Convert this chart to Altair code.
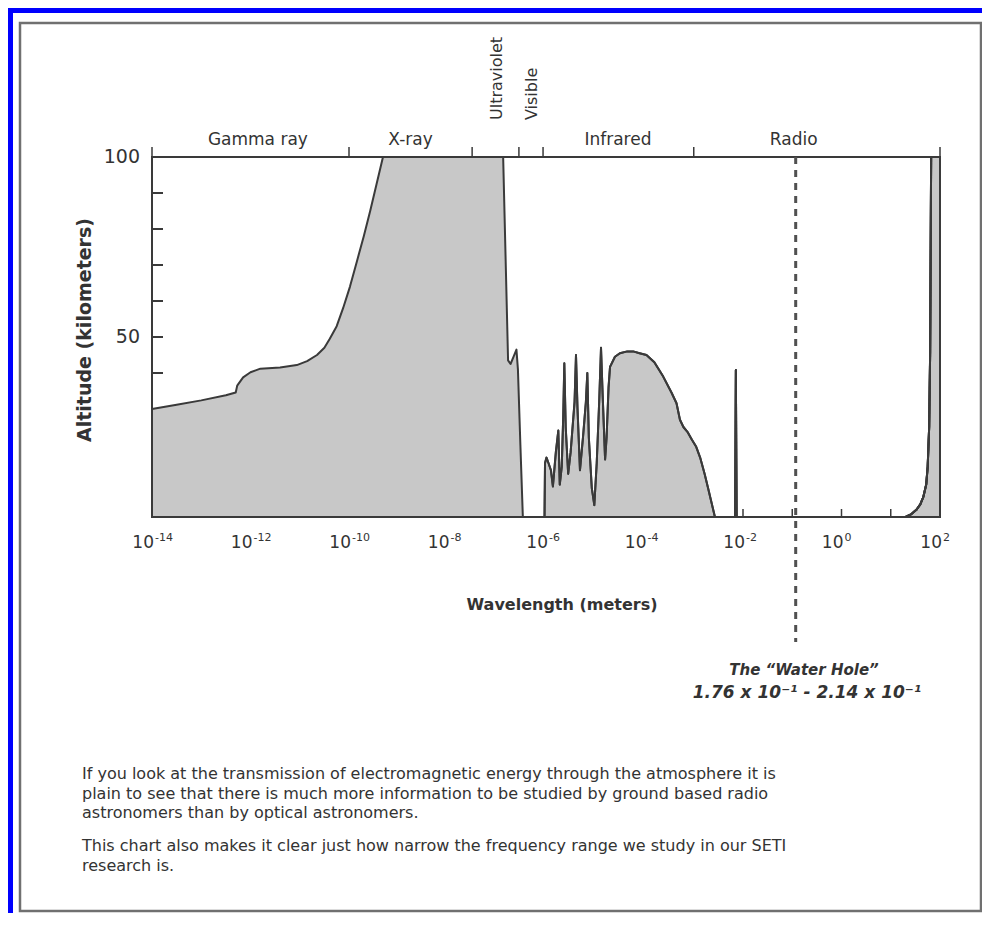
import altair as alt
import pandas as pd

# ---------------- data (wavelength as log10 of meters, altitude in km) -------------
gamma_xray_e = [-14.0, -13.5, -13.0, -12.5, -12.3, -12.27, -12.15, -12.0, -11.8, -11.4,
                -11.06, -10.85, -10.65, -10.5, -10.39, -10.25, -10.12, -9.98, -9.84, -9.7,
                -9.57, -9.44, -9.31, -6.87, -6.77, -6.72, -6.66, -6.6, -6.57, -6.52, -6.47]
gamma_xray_alt = [30, 31.2, 32.4, 33.8, 34.6, 36.5, 38.8, 40.2, 41.2, 41.5,
                  42.2, 43.3, 45, 47, 49.5, 53, 58, 64, 71, 78,
                  85, 92.5, 100, 100, 43.5, 42.5, 44.5, 46.5, 41, 20, 0]

infrared_e = [-6.03, -6.02, -5.99, -5.95, -5.90, -5.86, -5.80, -5.75, -5.72, -5.68,
              -5.65, -5.628, -5.60, -5.55, -5.50, -5.42, -5.391, -5.36, -5.31, -5.25,
              -5.19, -5.161, -5.13, -5.07, -5.019, -4.97, -4.92, -4.883, -4.85, -4.80,
              -4.77, -4.73, -4.70, -4.60, -4.50, -4.35, -4.23, -4.10, -3.96, -3.80,
              -3.62, -3.45, -3.35, -3.28, -3.21, -3.12, -3.04, -2.95, -2.87, -2.78,
              -2.70, -2.57]
infrared_alt = [0, 15, 16.5, 15, 13, 8.5, 18, 24, 9, 14,
                28, 42.7, 25, 12, 18, 32, 45, 30, 13, 22,
                32, 40, 22, 8, 3.3, 15, 32, 47, 34, 16,
                22, 36, 41.7, 44.5, 45.5, 46, 46, 45.5, 45, 43,
                39, 34.5, 31.6, 27, 25, 23.5, 21.5, 19.5, 16.5, 12,
                7.5, 0]

microwave_e = [-2.16, -2.145, -2.13]
microwave_alt = [0, 40.8, 0]

radio_e = [1.30, 1.42, 1.52, 1.60, 1.66, 1.72, 1.75, 1.78, 1.80, 1.82, 2.0]
radio_alt = [0, 0.8, 2, 3.5, 5.5, 9, 14, 25, 46, 100, 100]

band_names = ["Gamma ray", "X-ray", "Ultraviolet", "Visible", "Infrared", "Radio"]
band_label_e = [-11.85, -8.75, -7.0, -6.28, -4.54, -0.97]
band_rotated = [False, False, True, True, False, False]
band_edges_e = [-14, -10, -7.5, -6.55, -6.06, -3, 2]

x_label_e = [-14, -12, -10, -8, -6, -4, -2, 0, 2]
x_label_base = ["10"] * 9
x_label_exp = ["-14", "-12", "-10", "-8", "-6", "-4", "-2", "0", "2"]
x_decade_ticks = [-13, -12, -11, -10, -9, -8, -7, -6, -5, -4, -3, -2, -1, 0, 1]

y_minor_ticks = [10, 20, 30, 40, 50, 60, 70, 80, 90]
y_label_values = [50, 100]
y_label_text = ["50", "100"]

water_hole_e = -0.93
water_hole_title = "The \u201cWater Hole\u201d"
water_hole_range = "1.76 x 10\u207b\u00b9 -  2.14 x 10\u207b\u00b9"

para1 = ["If you look at the transmission of electromagnetic energy through the atmosphere it is",
         "plain to see that there is much more information to be studied by ground based radio",
         "astronomers than by optical astronomers."]
para2 = ["This chart also makes it clear just how narrow the frequency range we study in our SETI",
         "research is."]

# ---------------- build tables -------------
segs = []
for name, es, al in [("gx", gamma_xray_e, gamma_xray_alt), ("ir", infrared_e, infrared_alt),
                     ("mw", microwave_e, microwave_alt), ("rd", radio_e, radio_alt)]:
    segs.append(pd.DataFrame({"seg": name, "e": es, "alt": al}))
area_df = pd.concat(segs, ignore_index=True)

bands = pd.DataFrame({"name": band_names, "e": band_label_e, "rot": band_rotated})
xlab = pd.DataFrame({"e": x_label_e, "base": x_label_base, "exp": x_label_exp})
ylab = pd.DataFrame({"v": y_label_values, "t": y_label_text})
one = pd.DataFrame({"a": [0]})

W, H = 788, 360
FONT = "DejaVu Sans"
INK = "#3a3a3a"
TXT = "#333333"

xs = alt.Scale(domain=[-14, 2], nice=False, zero=False)
ys = alt.Scale(domain=[0, 100], nice=False, zero=False)

X = lambda f: alt.X(f, scale=xs, axis=None)
Y = lambda f: alt.Y(f, scale=ys, axis=None)

y_inner_ticks = alt.Chart(pd.DataFrame({"v": y_minor_ticks})).mark_rule(
    color=INK, strokeWidth=2).encode(
    y=Y("v:Q"), x=alt.value(0), x2=alt.value(11))

x_inner_ticks = alt.Chart(pd.DataFrame({"e": x_decade_ticks})).mark_rule(
    color=INK, strokeWidth=1.5).encode(
    x=X("e:Q"), y=alt.value(H), y2=alt.value(H - 8))

area = alt.Chart(area_df).mark_area(
    color="#c8c8c8", opacity=1,
    line={"color": INK, "strokeWidth": 2, "strokeJoin": "round"}).encode(
    x=X("e:Q"), y=Y("alt:Q"), detail="seg:N")

frame = alt.Chart(pd.DataFrame({"x1": [-14], "x2": [2], "y1": [0], "y2": [100]})).mark_rect(
    fillOpacity=0, stroke=INK, strokeWidth=2).encode(
    x=X("x1:Q"), x2="x2:Q", y=Y("y1:Q"), y2="y2:Q")

y_labels = alt.Chart(ylab).mark_text(
    font=FONT, fontSize=19, color=TXT, align="right", baseline="middle").encode(
    y=Y("v:Q"), x=alt.value(-12), text="t:N")

top_ticks = alt.Chart(pd.DataFrame({"e": band_edges_e})).mark_rule(
    color=INK, strokeWidth=1.5).encode(
    x=X("e:Q"), y=alt.value(0), y2=alt.value(-10))

band_flat = alt.Chart(bands[~bands["rot"]]).mark_text(
    font=FONT, fontSize=17, color=TXT, baseline="alphabetic").encode(
    x=X("e:Q"), y=alt.value(-12), text="name:N")

band_rot = alt.Chart(bands[bands["rot"]]).mark_text(
    font=FONT, fontSize=16, color=TXT, angle=270, align="left", baseline="middle").encode(
    x=X("e:Q"), y=alt.value(-37), text="name:N")

water_line = alt.Chart(pd.DataFrame({"e": [water_hole_e]})).mark_rule(
    color="#505050", strokeWidth=3, strokeDash=[7, 6]).encode(
    x=X("e:Q"), y=alt.value(0), y2=alt.value(485))

xlab_base = alt.Chart(xlab).mark_text(
    font=FONT, fontSize=17, color=TXT, align="right", baseline="alphabetic", dx=2).encode(
    x=X("e:Q"), y=alt.value(391), text="base:N")

xlab_exp = alt.Chart(xlab).mark_text(
    font=FONT, fontSize=11, color=TXT, align="left", baseline="alphabetic", dx=3).encode(
    x=X("e:Q"), y=alt.value(384), text="exp:N")

x_title = alt.Chart(one).mark_text(
    text="Wavelength (meters)", font=FONT, fontSize=16, fontWeight="bold", color=TXT,
    align="center", baseline="middle").encode(x=alt.value(410), y=alt.value(448))

y_title = alt.Chart(one).mark_text(
    text="Altitude (kilometers)", font=FONT, fontSize=19, fontWeight="bold", color=TXT,
    angle=270, align="center", baseline="middle").encode(x=alt.value(-67), y=alt.value(173))

wh_title = alt.Chart(one).mark_text(
    text=water_hole_title, font=FONT, fontSize=15, fontWeight="bold", fontStyle="italic",
    color=TXT, align="center", baseline="alphabetic").encode(
    x=alt.value(652), y=alt.value(518))

wh_range = alt.Chart(one).mark_text(
    text=water_hole_range, font=FONT, fontSize=17, fontWeight="bold", fontStyle="italic",
    color=TXT, align="center", baseline="alphabetic").encode(
    x=alt.value(655), y=alt.value(541))

p1 = alt.Chart(one).mark_text(
    text=para1, font=FONT, fontSize=16, color=TXT, align="left", baseline="alphabetic",
    lineHeight=19.5).encode(x=alt.value(-70), y=alt.value(622))

p2 = alt.Chart(one).mark_text(
    text=para2, font=FONT, fontSize=16, color=TXT, align="left", baseline="alphabetic",
    lineHeight=19.5).encode(x=alt.value(-70), y=alt.value(694))

blue_left = alt.Chart(one).mark_rect(color="#0000fe").encode(
    x=alt.value(-144), x2=alt.value(-139), y=alt.value(-149), y2=alt.value(756))
blue_top = alt.Chart(one).mark_rect(color="#0000fe").encode(
    x=alt.value(-144), x2=alt.value(830), y=alt.value(-149), y2=alt.value(-144))
outer = alt.Chart(one).mark_rect(fillOpacity=0, stroke="#707070", strokeWidth=2.5).encode(
    x=alt.value(-132), x2=alt.value(829), y=alt.value(-134), y2=alt.value(754))

chart = alt.layer(
    blue_left, blue_top, outer,
    y_inner_ticks, x_inner_ticks, area, frame, y_labels, top_ticks,
    band_flat, band_rot, water_line, xlab_base, xlab_exp,
    x_title, y_title, wh_title, wh_range, p1, p2
).properties(
    width=W, height=H,
    autosize=alt.AutoSizeParams(type="none"),
    padding={"left": 144, "top": 149, "right": 42, "bottom": 396},
    background="white"
).configure_view(strokeWidth=0)

chart.save("out.html", embed_options={"renderer": "svg", "actions": False})
